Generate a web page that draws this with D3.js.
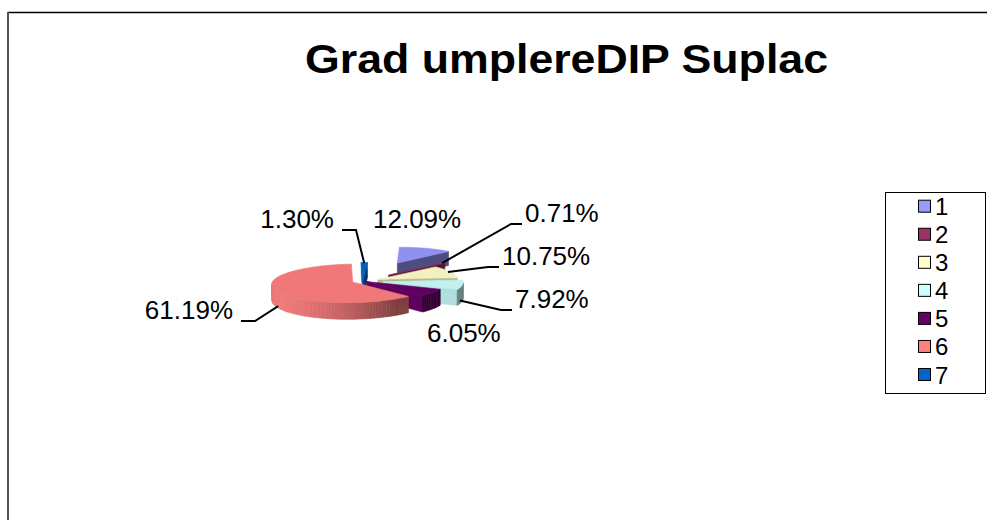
<!DOCTYPE html>
<html>
<head>
<meta charset="utf-8">
<script src="https://cdn.jsdelivr.net/npm/d3@7"></script>
<style>
html, body { margin: 0; padding: 0; background: #fff; }
svg { display: block; font-family: "Liberation Sans", Arial, sans-serif; }
</style>
</head>
<body>
<svg id="svg"></svg>
<script>
var larghezza = 987;
var altezza = 520;

var title = "Grad umplereDIP Suplac";
var categories = ["1", "2", "3", "4", "5", "6", "7"];
var values = [12.09, 0.71, 10.75, 7.92, 6.05, 61.19, 1.30];
var labels = ["12.09%", "0.71%", "10.75%", "7.92%", "6.05%", "61.19%", "1.30%"];
var colors = ["#9999FF", "#993366", "#FFFFCC", "#CCFFFF", "#660066", "#FF8080", "#0066CC"];

// 3d pie setup
var radius = 80, depthH = 16, elev = 14.5 * Math.PI / 180, dist = 1200, camX = 70;
var centerX = 363, centerY = 281;
var explode = [86, 35, 16, 20, 4, 11, 3];

// label positions (text x, baseline y)
var labelX = [373, 525, 502, 515, 427, 233, 334];
var labelY = [228, 222, 265, 308, 342, 319, 228];
var labelSide = ["start", "start", "start", "start", "start", "end", "end"];
var leader = [false, true, true, true, false, true, true];

var sa = Math.sin(elev), ca = Math.cos(elev);
var s0 = dist / (dist - depthH * sa);
var ox = centerX - camX + camX * s0;
var oy = centerY + depthH * ca * s0;
var cam = [camX, dist * sa, dist * ca];
var light = norm([-0.8, 0.25, 0.55]);

function norm(v) {
    var l = Math.sqrt(v[0] * v[0] + v[1] * v[1] + v[2] * v[2]);
    return [v[0] / l, v[1] / l, v[2] / l];
}
function dot(a, b) { return a[0] * b[0] + a[1] * b[1] + a[2] * b[2]; }

function project(p) {
    var u = p[0], v = p[1] * ca - p[2] * sa, w = p[2] * ca + p[1] * sa;
    var s = dist / (dist - w);
    return [ox + camX + (u - camX) * s, oy - v * s];
}
function depthOf(pts) {
    var w = 0;
    pts.forEach(function (p) { w += p[2] * ca + p[1] * sa; });
    return w / pts.length;
}
function centroid(pts) {
    var c = [0, 0, 0];
    pts.forEach(function (p) { c[0] += p[0]; c[1] += p[1]; c[2] += p[2]; });
    return [c[0] / pts.length, c[1] / pts.length, c[2] / pts.length];
}
function facing(n, pts) {
    var c = centroid(pts);
    return dot(n, [cam[0] - c[0], cam[1] - c[1], cam[2] - c[2]]) > 0;
}
function shade(col, n) {
    var f = 0.5 + 0.45 * Math.max(0, dot(n, light));
    var c = d3.rgb(col);
    return d3.rgb(c.r * f, c.g * f, c.b * f).toString();
}

var svg = d3.select("#svg").attr("width", larghezza).attr("height", altezza);

// chart frame
svg.append("line").attr("x1", 7.5).attr("y1", 12.5).attr("x2", larghezza).attr("y2", 12.5)
    .style("stroke", "#000").style("stroke-width", "1.5px");
svg.append("line").attr("x1", 8).attr("y1", 12).attr("x2", 8).attr("y2", altezza)
    .style("stroke", "#555").style("stroke-width", "2px");

svg.append("text")
    .attr("x", 305).attr("y", 73)
    .attr("textLength", 523).attr("lengthAdjust", "spacingAndGlyphs")
    .style("font-size", "40px").style("font-weight", "bold")
    .text(title);

var arcs = d3.pie().sort(null).value(function (d) { return d; })(values);

var cutWalls = [], outerWalls = [], tops = [], anchors = [];

arcs.forEach(function (a, i) {
    var a0 = a.startAngle, a1 = a.endAngle, mid = (a0 + a1) / 2;
    var off = [explode[i] * Math.sin(mid), 0, -explode[i] * Math.cos(mid)];
    function rim(t, y, r) {
        r = r === undefined ? radius : r;
        return [off[0] + r * Math.sin(t), y, off[2] - r * Math.cos(t)];
    }
    var apexB = [off[0], 0, off[2]], apexT = [off[0], depthH, off[2]];
    var steps = Math.max(2, Math.ceil((a1 - a0) / (2 * Math.PI / 180)));

    // radial cut faces
    var q0 = [apexB, apexT, rim(a0, depthH), rim(a0, 0)];
    var n0 = [-Math.cos(a0), 0, -Math.sin(a0)];
    if (facing(n0, q0)) cutWalls.push({pts: q0, fill: shade(colors[i], n0)});
    var q1 = [apexB, apexT, rim(a1, depthH), rim(a1, 0)];
    var n1 = [Math.cos(a1), 0, Math.sin(a1)];
    if (facing(n1, q1)) cutWalls.push({pts: q1, fill: shade(colors[i], n1)});

    // outer curved wall
    for (var k = 0; k < steps; k++) {
        var t0 = a0 + (a1 - a0) * k / steps, t1 = a0 + (a1 - a0) * (k + 1) / steps;
        var tm = (t0 + t1) / 2;
        var q = [rim(t0, 0), rim(t0, depthH), rim(t1, depthH), rim(t1, 0)];
        var n = [Math.sin(tm), 0, -Math.cos(tm)];
        if (facing(n, q)) outerWalls.push({pts: q, fill: shade(colors[i], n)});
    }

    // top face
    var tp = [apexT];
    for (var j = 0; j <= steps; j++) tp.push(rim(a0 + (a1 - a0) * j / steps, depthH));
    var tc = d3.rgb(colors[i]);
    tops.push({pts: tp, fill: d3.rgb(tc.r * 0.94, tc.g * 0.94, tc.b * 0.94).toString()});

    var back = Math.cos(mid) > 0;
    anchors.push(project(rim(mid, back ? depthH : 0, radius * 0.97)));
});

function drawFaces(list) {
    list.sort(function (a, b) { return depthOf(a.pts) - depthOf(b.pts); });
    list.forEach(function (f) {
        var pp = f.pts.map(project);
        svg.append("path")
            .attr("d", "M" + pp.map(function (p) { return p[0].toFixed(2) + "," + p[1].toFixed(2); }).join("L") + "Z")
            .style("fill", f.fill)
            .style("stroke", f.fill)
            .style("stroke-width", "0.6px");
    });
}

drawFaces(cutWalls);
drawFaces(outerWalls);
drawFaces(tops);

// labels and leader lines
labels.forEach(function (t, i) {
    svg.append("text")
        .attr("x", labelX[i]).attr("y", labelY[i])
        .attr("text-anchor", labelSide[i])
        .style("font-size", "26px")
        .text(t);
    if (leader[i]) {
        var e1, e2;
        if (labelSide[i] === "start") {
            e1 = [labelX[i] - 3, labelY[i] + 2];
            e2 = [labelX[i] - 14, labelY[i] + 2];
        } else {
            e1 = [labelX[i] + 8, labelY[i] + 2];
            e2 = [labelX[i] + 22, labelY[i] + 2];
        }
        svg.append("path")
            .attr("d", "M" + e1[0] + " " + e1[1] + " L" + e2[0] + " " + e2[1] + " L" + anchors[i][0] + " " + anchors[i][1])
            .style("fill", "none")
            .style("stroke", "#000")
            .style("stroke-width", "2px");
    }
});

// legend
var legendX = 885, legendY = 192, rowH = 28.05;
svg.append("rect")
    .attr("x", legendX + 0.5).attr("y", legendY + 0.5)
    .attr("width", 100).attr("height", 201)
    .style("fill", "#fff").style("stroke", "#000").style("stroke-width", "1px");
categories.forEach(function (c, i) {
    var cy = legendY + 14.7 + i * rowH;
    svg.append("rect")
        .attr("x", 918.5).attr("y", cy - 6.5)
        .attr("width", 12).attr("height", 12)
        .style("fill", colors[i]).style("stroke", "#000").style("stroke-width", "1px");
    svg.append("text")
        .attr("x", 935).attr("y", cy + 8.5)
        .style("font-size", "24px")
        .text(c);
});
</script>
</body>
</html>
